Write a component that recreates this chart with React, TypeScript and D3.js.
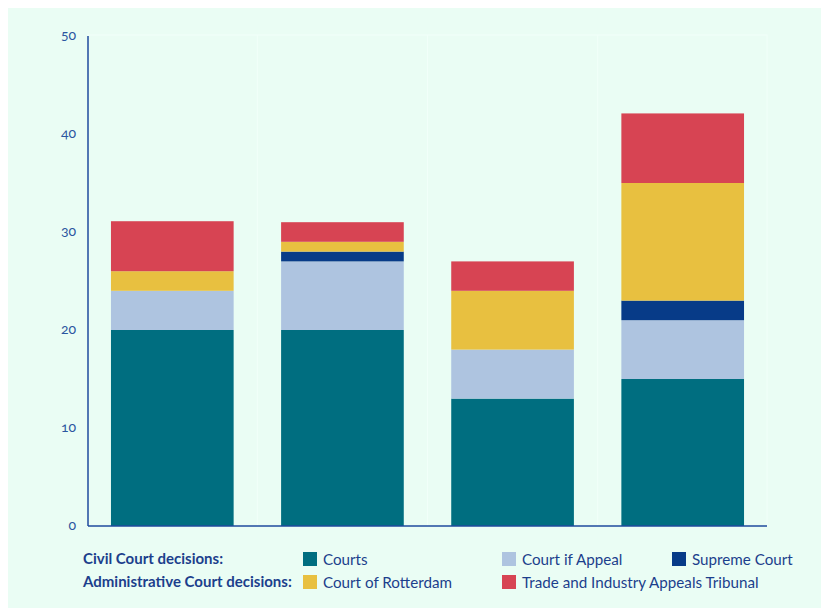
import React from "react";
import * as d3 from "d3";

const categories = ["A", "B", "C", "D"];
const seriesNames = ["Courts", "Court if Appeal", "Supreme Court", "Court of Rotterdam", "Trade and Industry Appeals Tribunal"];
const courts = [20, 20, 13, 15];
const courtOfAppeal = [4, 7, 5, 6];
const supremeCourt = [0, 1, 0, 2];
const courtOfRotterdam = [2, 1, 6, 12];
const tradeTribunal = [5.1, 2, 3, 7.1];
const yTicks = [0, 10, 20, 30, 40, 50];
const colors = ["#006e80", "#aec4e0", "#073b88", "#e8c040", "#d74453"];

const W = 821, H = 608;
const left = 88, right = 767, top = 36, bottom = 526;
const axisColor = "#1e4a9c";
const font = "Lato, 'Open Sans', sans-serif";

export default function App() {
  const seriesValues = [courts, courtOfAppeal, supremeCourt, courtOfRotterdam, tradeTribunal];
  const rows = categories.map((c, i) => {
    const r: any = { cat: c };
    seriesNames.forEach((s, k) => (r[s] = seriesValues[k][i]));
    return r;
  });
  const stacked = d3.stack().keys(seriesNames)(rows);
  const x = d3.scaleBand().domain(categories).range([left, right]).paddingInner(0.279).paddingOuter(0.135);
  const y = d3.scaleLinear().domain([0, 50]).range([bottom, top]);
  const step = x.step();
  const dividers = categories.slice(1).map((c) => (x(c) as number) - (step - x.bandwidth()) / 2);

  const legend = [
    { name: "Courts", color: colors[0], x: 303, y: 552 },
    { name: "Court if Appeal", color: colors[1], x: 502, y: 552 },
    { name: "Supreme Court", color: colors[2], x: 672, y: 552 },
    { name: "Court of Rotterdam", color: colors[3], x: 303, y: 575 },
    { name: "Trade and Industry Appeals Tribunal", color: colors[4], x: 502, y: 575 },
  ];

  return (
    <svg width={W} height={H} style={{ position: "absolute", left: 0, top: 0 }} fontFamily={font}>
      <rect x={0} y={0} width={W} height={H} fill="#ffffff" />
      <rect x={8} y={8} width={W - 8} height={H - 8} fill="#eafdf4" />
      <rect x={left} y={35} width={right - left} height={bottom - 35} fill="none" stroke="#f1fff9" strokeWidth={1} />
      {dividers.map((d, i) => (
        <line key={i} x1={d} x2={d} y1={35} y2={bottom} stroke="#f1fff9" strokeWidth={1} />
      ))}
      {stacked.map((s, k) => (
        <g key={k} fill={colors[k]}>
          {s.map((d, i) => (
            <rect key={i} x={x(categories[i])} y={y(d[1])} width={x.bandwidth()} height={Math.max(0, y(d[0]) - y(d[1]))} />
          ))}
        </g>
      ))}
      <line x1={left} x2={left} y1={top} y2={bottom} stroke={axisColor} strokeWidth={1.5} />
      <line x1={left} x2={right} y1={bottom} y2={bottom} stroke={axisColor} strokeWidth={1.5} />
      {yTicks.map((t) => (
        <text key={t} x={76} y={y(t)} dy="0.3em" textAnchor="end" fontSize={14} fill="#2b56a0"
          style={{ fontFeatureSettings: "'onum' 1", fontVariantNumeric: "oldstyle-nums" }}>{t}</text>
      ))}
      <text x={83} y={564} fontSize={15} fontWeight="bold" fill="#1c3f8c">Civil Court decisions:</text>
      <text x={83} y={587} fontSize={15} fontWeight="bold" fill="#1c3f8c">Administrative Court decisions:</text>
      {legend.map((l) => (
        <g key={l.name}>
          <rect x={l.x} y={l.y} width={14} height={14} fill={l.color} />
          <text x={l.x + 20} y={l.y + 12.5} fontSize={15.2} fill="#1c3f8c">{l.name}</text>
        </g>
      ))}
    </svg>
  );
}
